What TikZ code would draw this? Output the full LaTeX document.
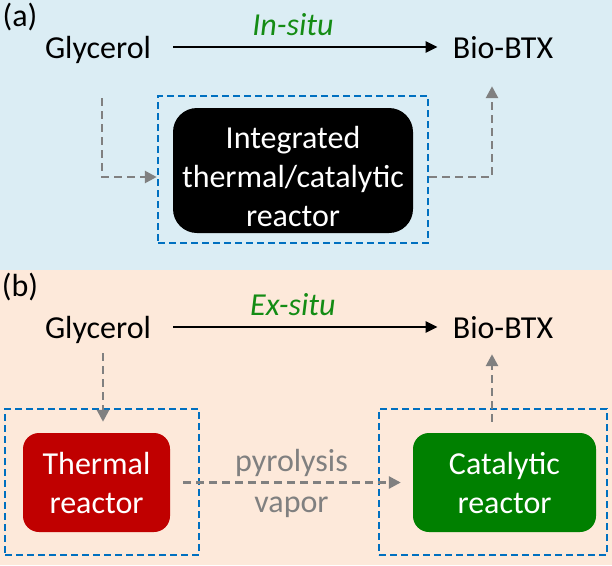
\documentclass[tikz,border=0pt]{standalone}
\usepackage{fontspec}
\setmainfont{Carlito}
\usetikzlibrary{arrows.meta}

\definecolor{bgblue}{RGB}{219,237,244}
\definecolor{bgpeach}{RGB}{253,233,218}
\definecolor{boxblue}{RGB}{0,112,192}
\definecolor{flowgray}{RGB}{128,128,128}
\definecolor{darkred}{RGB}{192,0,0}
\definecolor{darkgreen}{RGB}{0,128,0}
\definecolor{labelgreen}{RGB}{20,140,20}

\begin{document}
\begin{tikzpicture}[x=1pt,y=-1pt,line width=2.4pt,
  txt/.style={inner sep=0pt,font=\fontsize{32}{39}\selectfont},
  word/.style={txt,text height=26pt,text depth=4pt},
  main/.style={-{Triangle[length=12pt,width=11pt]},black},
  feed/.style={-{Triangle[length=12pt,width=12pt]},flowgray,line width=2.7pt,dash pattern=on 8pt off 5pt},
  group/.style={draw=boxblue,dash pattern=on 7pt off 4pt,line width=2.5pt},
  reactor/.style={txt,text=white,align=center,rounded corners=16pt}]
\useasboundingbox (0,0) rectangle (612,565);
\fill[bgblue] (0,0) rectangle (612,270);
\fill[bgpeach] (0,270) rectangle (612,565);

\node[txt] (laba) at (20,17) {(a)};
\node[word] (glyA) at (98,47) {Glycerol};
\node[word] (btxA) at (503,47) {Bio-BTX};
\draw[main,shorten <=21pt,shorten >=14pt] (glyA) -- (btxA)
  node[txt,pos=0.47,above=10pt,text=labelgreen,font=\fontsize{32}{39}\selectfont\itshape] (modeA) {In-situ};

\node[group,minimum width=270pt,minimum height=147pt] (grpA) at (293,169.5) {};
\node[reactor,fill=black,minimum width=240pt,minimum height=125pt,rounded corners=24pt] (intA) at (293,170.5)
  {\rule{0pt}{35pt}Integrated\\thermal/catalytic\\reactor};
\draw[feed,shorten <=35pt] ([xshift=4pt]glyA.south) |- ([yshift=-7.5pt]grpA.west);
\draw[feed,shorten >=23pt] ([yshift=-7.5pt]grpA.east) -| ([xshift=-11pt]btxA.south);

\node[txt] (labb) at (20,287) {(b)};
\node[word] (glyB) at (98,327) {Glycerol};
\node[word] (btxB) at (503,327) {Bio-BTX};
\draw[main,shorten <=21pt,shorten >=14pt] (glyB) -- (btxB)
  node[txt,pos=0.47,above=10pt,text=labelgreen,font=\fontsize{32}{39}\selectfont\itshape] (modeB) {Ex-situ};

\node[group,minimum width=194pt,minimum height=146pt] (grpT) at (102,482) {};
\node[group,minimum width=228pt,minimum height=146pt] (grpC) at (493,482) {};
\node[reactor,fill=darkred,minimum width=147pt,minimum height=99pt] (thermB) at (96.5,482.5) {Thermal\\reactor};
\node[reactor,fill=darkgreen,minimum width=183pt,minimum height=99pt] (catB) at (504.5,482.5) {Catalytic\\reactor};

\draw[feed,shorten <=10pt,shorten >=10pt] ([xshift=5pt]glyB.south) -- ([xshift=5pt]glyB.south |- thermB.north);
\draw[feed,shorten <=12pt,shorten >=11pt] (thermB) -- (catB)
  node[txt,midway,above=5pt,text=flowgray] (vapA) {pyrolysis}
  node[txt,midway,below=13pt,text=flowgray] (vapB) {vapor};
\draw[feed,shorten <=10pt,shorten >=11pt] ([xshift=-12.5pt]catB.north) -- ([xshift=-12.5pt]catB.north |- btxB.south);

\end{tikzpicture}
\end{document}
